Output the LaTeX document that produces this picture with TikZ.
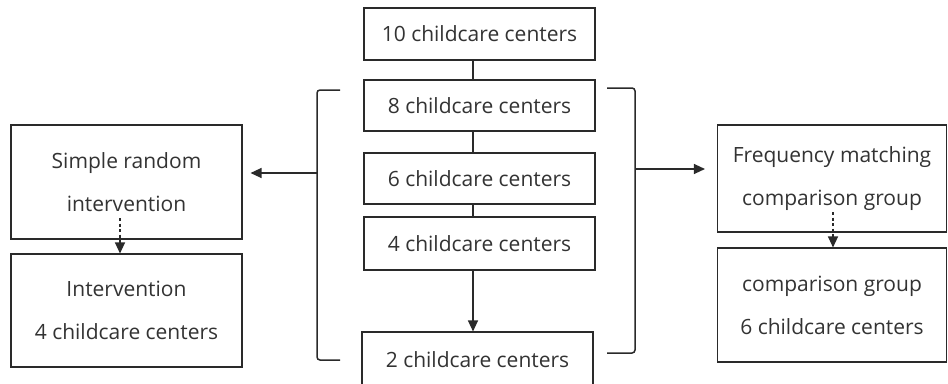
\documentclass[tikz,border=0pt]{standalone}
\usepackage{fontspec}
\setmainfont{Open Sans}
\usetikzlibrary{arrows.meta}
\definecolor{ink}{HTML}{2A2A2A}
\definecolor{txt}{HTML}{333333}
\begin{document}
\begin{tikzpicture}[x=1pt,y=-1pt,
  box/.style={draw=ink, line width=1.1pt, minimum width=231pt, align=center,
    text=txt, inner sep=0pt, font=\fontsize{21}{43}\selectfont},
  link/.style={draw=ink, line width=1.2pt},
  arr/.style={link, -{Triangle[length=11pt,width=10pt]}},
  darr/.style={link, dash pattern=on 3pt off 2.5pt, -{Triangle[length=11pt,width=10pt]}},
  brk/.style={draw=ink, line width=1.5pt, rounded corners=3pt}]
\useasboundingbox (0,0) rectangle (948,383);
\clip (0,0) rectangle (948,383);
\fill[white] (0,0) rectangle (948,383);

% centre column
\node[box, minimum height=52pt] (n10) at (479.5,34) {10 childcare centers};
\node[box, minimum height=51pt] (n8)  at (479.5,105.5) {8 childcare centers};
\node[box, minimum height=51pt] (n6)  at (479.5,178.5) {6 childcare centers};
\node[box, minimum height=53pt] (n4)  at (479.5,243.5) {4 childcare centers};
\node[box, minimum height=56pt] (n2)  at (477.5,360) {2 childcare centers};

% side groups
\node[box, minimum height=114pt] (sr) at (126.5,182) {Simple random\\intervention};
\node[box, minimum height=113pt] (iv) at (126.5,310.5) {Intervention\\4 childcare centers};
\node[box, minimum width=229pt, minimum height=107pt] (fm) at (832,178.5) {Frequency matching\\comparison group};
\node[box, minimum width=229pt, minimum height=114pt] (cg) at (832,305) {comparison group\\6 childcare centers};

% spine of the centre column
\coordinate (sx) at (473,0);
\draw[link] (n10.south -| sx) -- (n8.north -| sx);
\draw[link] (n8.south -| sx) -- (n6.north -| sx);
\draw[link] (n6.south -| sx) -- (n4.north -| sx);
\draw[arr]  (n4.south -| sx) -- (n2.north -| sx);

% brackets around the selection steps
\coordinate (lt) at (340,90);  \coordinate (lb) at (340,360);
\coordinate (rt) at (607,88);  \coordinate (rb) at (607,353);
\draw[brk] (lt) -- (317,90) -- (317,360) -- (lb);
\draw[brk] (rt) -- (635,88) -- (635,353) -- (rb);
\coordinate (lm) at (317,173);
\coordinate (rm) at (635,169);

% allocation arrows
\draw[arr] (lm) -- ([xshift=8pt]sr.east |- lm);
\draw[arr] (rm) -- ([xshift=-12pt]fm.west |- rm);

% dashed steps inside each group
\draw[darr] (120,218) coordinate (ds) -- (iv.north -| ds);
\draw[darr] (833,212) coordinate (dc) -- (cg.north -| dc);
\end{tikzpicture}
\end{document}
